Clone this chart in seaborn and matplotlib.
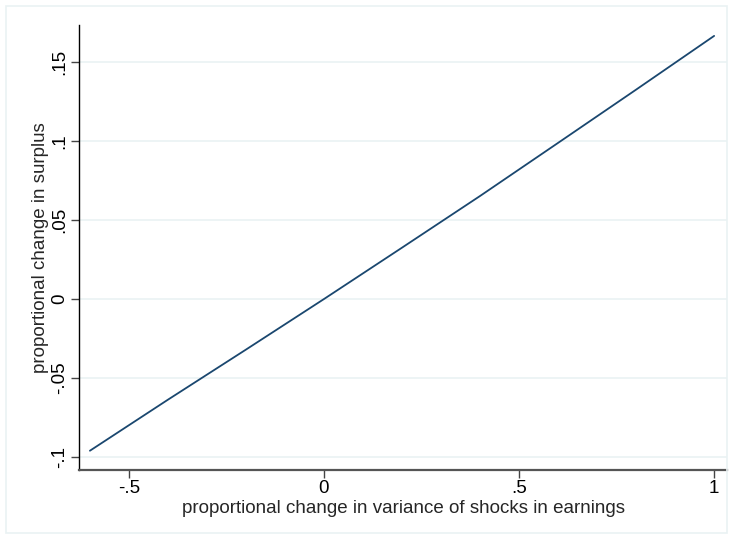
import matplotlib
matplotlib.use("Agg")
import matplotlib.pyplot as plt
import seaborn as sns
import pandas as pd
from matplotlib.patches import Rectangle

# data
variance_change = [-0.6, -0.4, -0.2, 0.0, 0.2, 0.4, 0.6, 0.8, 1.0]
surplus_change = [-0.096, -0.0637, -0.0320, 0.0, 0.0325, 0.0652, 0.0988, 0.1325, 0.1665]
x_ticks = [-0.5, 0, 0.5, 1]
x_tick_labels = ["-.5", "0", ".5", "1"]
y_ticks = [-0.1, -0.05, 0, 0.05, 0.1, 0.15]
y_tick_labels = ["-.1", "-.05", "0", ".05", ".1", ".15"]

sns.set_style("white")
plt.rcParams["font.family"] = ["Liberation Sans", "DejaVu Sans"]

W, H = 734, 539
fig = plt.figure(figsize=(W / 100, H / 100), dpi=100)
fig.patch.set_facecolor("white")
fig.patches.append(Rectangle((6 / W, 6 / H), 721 / W, 527 / H, transform=fig.transFigure,
                             fill=False, edgecolor="#eaf2f3", linewidth=1.2))

ax = fig.add_axes([79 / W, 1 - 470 / H, (727 - 79) / W, (470 - 25) / H])
df = pd.DataFrame({"x": variance_change, "y": surplus_change})
sns.lineplot(data=df, x="x", y="y", ax=ax, color="#1a476f", linewidth=1.3)

ax.set_xlim(-0.628, 1.033)
ax.set_ylim(-0.1082, 0.1734)
ax.set_xticks(x_ticks)
ax.set_xticklabels(x_tick_labels)
ax.set_yticks(y_ticks)
ax.set_yticklabels(y_tick_labels, rotation=90, va="center")
for yv in y_ticks:
    ax.axhline(yv, color="#eaf2f3", linewidth=1.2, zorder=0)

for s in ["top", "right"]:
    ax.spines[s].set_visible(False)
ax.spines["left"].set_color("black")
ax.spines["left"].set_linewidth(1.0)
ax.spines["bottom"].set_color("#555555")
ax.spines["bottom"].set_linewidth(1.6)
ax.tick_params(axis="both", direction="out", length=5.5, width=1, color="#444444",
               labelsize=13.5, labelcolor="black", pad=2)
ax.tick_params(axis="x", bottom=True)
ax.tick_params(axis="y", left=True)

ax.set_xlabel("proportional change in variance of shocks in earnings", fontsize=13.5, labelpad=2)
ax.set_ylabel("proportional change in surplus", fontsize=13.5, labelpad=2)

fig.savefig("out.png", dpi=100)
